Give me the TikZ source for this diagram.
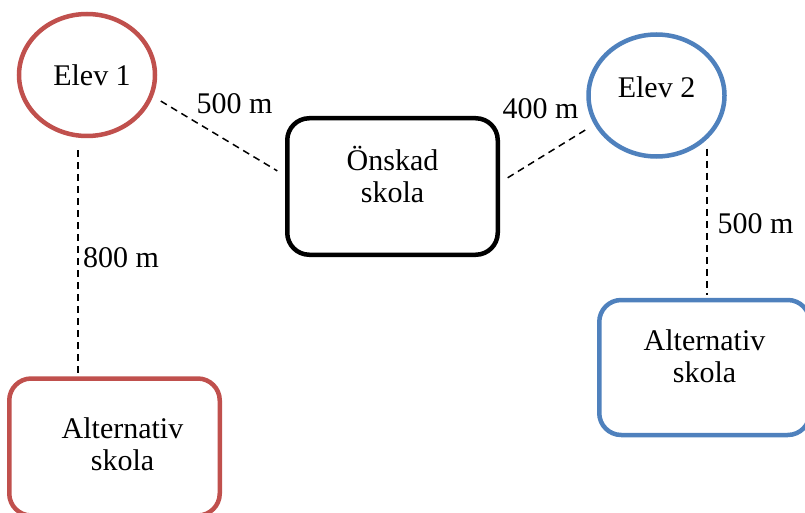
\documentclass[tikz,border=0pt]{standalone}
\usepackage{fontspec}
\setmainfont{Liberation Serif}
\usetikzlibrary{shapes.geometric}
\definecolor{elevred}{HTML}{C0504D}
\definecolor{elevblue}{HTML}{4F81BD}
\tikzset{
	txt/.style={font=\fontsize{30}{32}\selectfont},
	elev/.style={txt, ellipse, draw, line width=4.5pt, minimum width=136pt, minimum height=122pt},
	skola/.style={txt, draw, rounded corners=22pt, line width=4.5pt, minimum width=210.5pt, align=center, text height=45pt, text depth=14pt},
	dist/.style={dash pattern=on 7pt off 5pt, line width=1.5pt}
}
\begin{document}
\begin{tikzpicture}[x=1pt,y=-1pt]
	\useasboundingbox (0,0) rectangle (805,513);
	\node (elev1) [elev, elevred] at (87,75) {\textcolor{black}{\hspace*{10pt}Elev 1}};
	\node (elev2) [elev, elevblue, text height=20pt, text depth=15pt] at (656.5,95.5) {\textcolor{black}{Elev 2}};
	\node (onskad) [skola, minimum height=136.5pt] at (392.5,186.5) {Önskad\\skola};
	\node (altA) [skola, elevred, minimum height=137pt, text height=60pt] at (114.5,447) {\textcolor{black}{\hspace*{16pt}Alternativ}\\\textcolor{black}{\hspace*{16pt}skola}};
	\node (altB) [skola, elevblue, minimum height=135pt, text height=43pt] at (704.5,367.5) {\textcolor{black}{Alternativ}\\\textcolor{black}{skola}};

	\node (d1) [txt, anchor=base] at (234.5,114) {500 m};
	\node (d2) [txt, anchor=base] at (540.5,119) {400 m};
	\node (d3) [txt, anchor=base] at (755.5,233) {500 m};
	\node (d4) [txt, anchor=base] at (121,267) {800 m};

	\draw[dist, shorten <=9pt, shorten >=9pt] (elev1.-18) -- ([yshift=11pt]onskad.west);
	\draw[dist, shorten <=9pt, shorten >=9pt] ([yshift=4pt]onskad.east) -- (elev2.205);
	\draw[dist, shorten >=3pt] ([xshift=50.5pt,yshift=10pt]elev2.south) -- ([xshift=2.5pt]altB.north);
	\draw[dist] ([xshift=-9pt,yshift=-12pt]elev1.south) -- ([xshift=-36.5pt]altA.north);
\end{tikzpicture}
\end{document}
